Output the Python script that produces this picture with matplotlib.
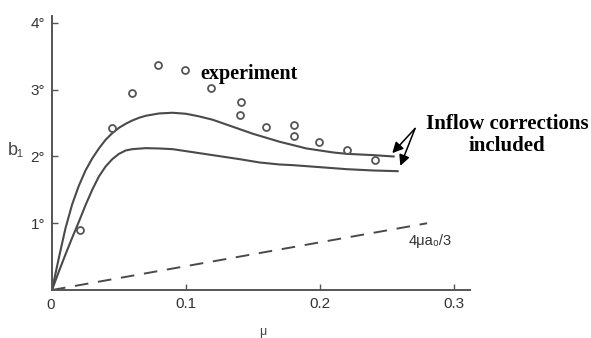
import matplotlib
matplotlib.use("Agg")
from matplotlib import pyplot as plt

# inflow-corrected curves (deg)
upper_mu = [0, 0.005, 0.01, 0.015, 0.02, 0.025, 0.03, 0.035, 0.04, 0.045, 0.05,
            0.055, 0.06, 0.065, 0.07, 0.08, 0.09, 0.10, 0.11, 0.12, 0.13, 0.14,
            0.15, 0.16, 0.17, 0.18, 0.19, 0.20, 0.21, 0.22, 0.23, 0.24, 0.255]
upper_b1 = [0, 0.47, 0.92, 1.28, 1.56, 1.79, 1.97, 2.12, 2.25, 2.35, 2.43,
            2.49, 2.54, 2.58, 2.61, 2.645, 2.655, 2.64, 2.60, 2.55, 2.48, 2.41,
            2.34, 2.28, 2.22, 2.17, 2.12, 2.09, 2.06, 2.04, 2.03, 2.02, 2.0]
lower_mu = [0, 0.005, 0.01, 0.015, 0.02, 0.025, 0.03, 0.035, 0.04, 0.045, 0.05,
            0.055, 0.06, 0.07, 0.08, 0.09, 0.10, 0.11, 0.12, 0.13, 0.14, 0.155,
            0.17, 0.18, 0.20, 0.22, 0.24, 0.258]
lower_b1 = [0, 0.27, 0.53, 0.78, 1.02, 1.27, 1.5, 1.7, 1.85, 1.96, 2.04,
            2.09, 2.11, 2.125, 2.12, 2.11, 2.08, 2.05, 2.02, 1.99, 1.96, 1.91,
            1.88, 1.87, 1.84, 1.81, 1.79, 1.78]

# classical 4*mu*a0/3
classic_mu = [0, 0.28]
classic_b1 = [0, 1.0]

# experiment
exp_mu = [0.021, 0.045, 0.060, 0.079, 0.099, 0.119, 0.141, 0.140, 0.160,
          0.181, 0.181, 0.199, 0.220, 0.241]
exp_b1 = [0.9, 2.42, 2.95, 3.37, 3.30, 3.03, 2.82, 2.62, 2.44,
          2.47, 2.31, 2.21, 2.10, 1.95]

xticks = [0.1, 0.2, 0.3]
xlabels = ["0.1", "0.2", "0.3"]
yticks = [1, 2, 3, 4]
ylabels = ["1°", "2°", "3°", "4°"]

gray = "#4a4a4a"
sans = ["Liberation Sans", "DejaVu Sans"]
serif = ["Liberation Serif", "DejaVu Serif"]

fig = plt.figure(figsize=(5.91, 3.38), dpi=100)
ax = fig.add_axes([52 / 591, 48 / 338, 418 / 591, 273.7 / 338])
ax.set_xlim(0, 0.312)
ax.set_ylim(0, 4.1)

ax.plot(upper_mu, upper_b1, color=gray, lw=1.5)
ax.plot(lower_mu, lower_b1, color=gray, lw=1.5)
ax.plot(classic_mu, classic_b1, color=gray, lw=1.4, dashes=(7, 5))
ax.plot(exp_mu, exp_b1, ls="none", marker="o", ms=5, mfc="white",
        mec="#555555", mew=1.3)

for s in ["top", "right"]:
    ax.spines[s].set_visible(False)
for s in ["left", "bottom"]:
    ax.spines[s].set_color("#555555")
    ax.spines[s].set_linewidth(1.4)

ax.set_xticks(xticks)
ax.set_xticklabels(xlabels, family=sans, fontsize=11, color="#333333")
ax.set_yticks(yticks)
ax.set_yticklabels(ylabels, family=sans, fontsize=11, color="#333333")
ax.tick_params(direction="in", length=4, width=1, color="#555555", pad=5)

ax.text(-0.001, -0.12, "0", family=sans, fontsize=11, color="#333333",
        ha="center", va="top", clip_on=False)
ax.text(0.157, -0.63, "μ", family=sans, fontsize=9, color="#444444",
        ha="center", va="center", clip_on=False)
fig.text(16 / 591, 1 - 150 / 338, "b₁", family=sans, fontsize=13,
         color="#444444", ha="center", va="center")
ax.text(0.266, 0.74, "4μa₀/3", family=sans, fontsize=10.5, color="#333333",
        ha="left", va="center")

ax.text(0.111, 3.23, "experiment", family=serif,
        fontsize=14.5, fontweight="bold", ha="left", va="center")
fig.text(507 / 591, 1 - 135 / 338, "Inflow corrections\nincluded",
         family=serif, fontsize=15,
         fontweight="bold", ha="center", va="center", linespacing=1.1)

arrow = dict(arrowstyle="-|>", color="black", lw=1.1, mutation_scale=16,
             shrinkA=0, shrinkB=0)
ax.annotate("", xy=(0.254, 2.05), xytext=(0.271, 2.42), arrowprops=arrow)
ax.annotate("", xy=(0.260, 1.86), xytext=(0.271, 2.42), arrowprops=arrow)

fig.savefig("out.png", dpi=100)
